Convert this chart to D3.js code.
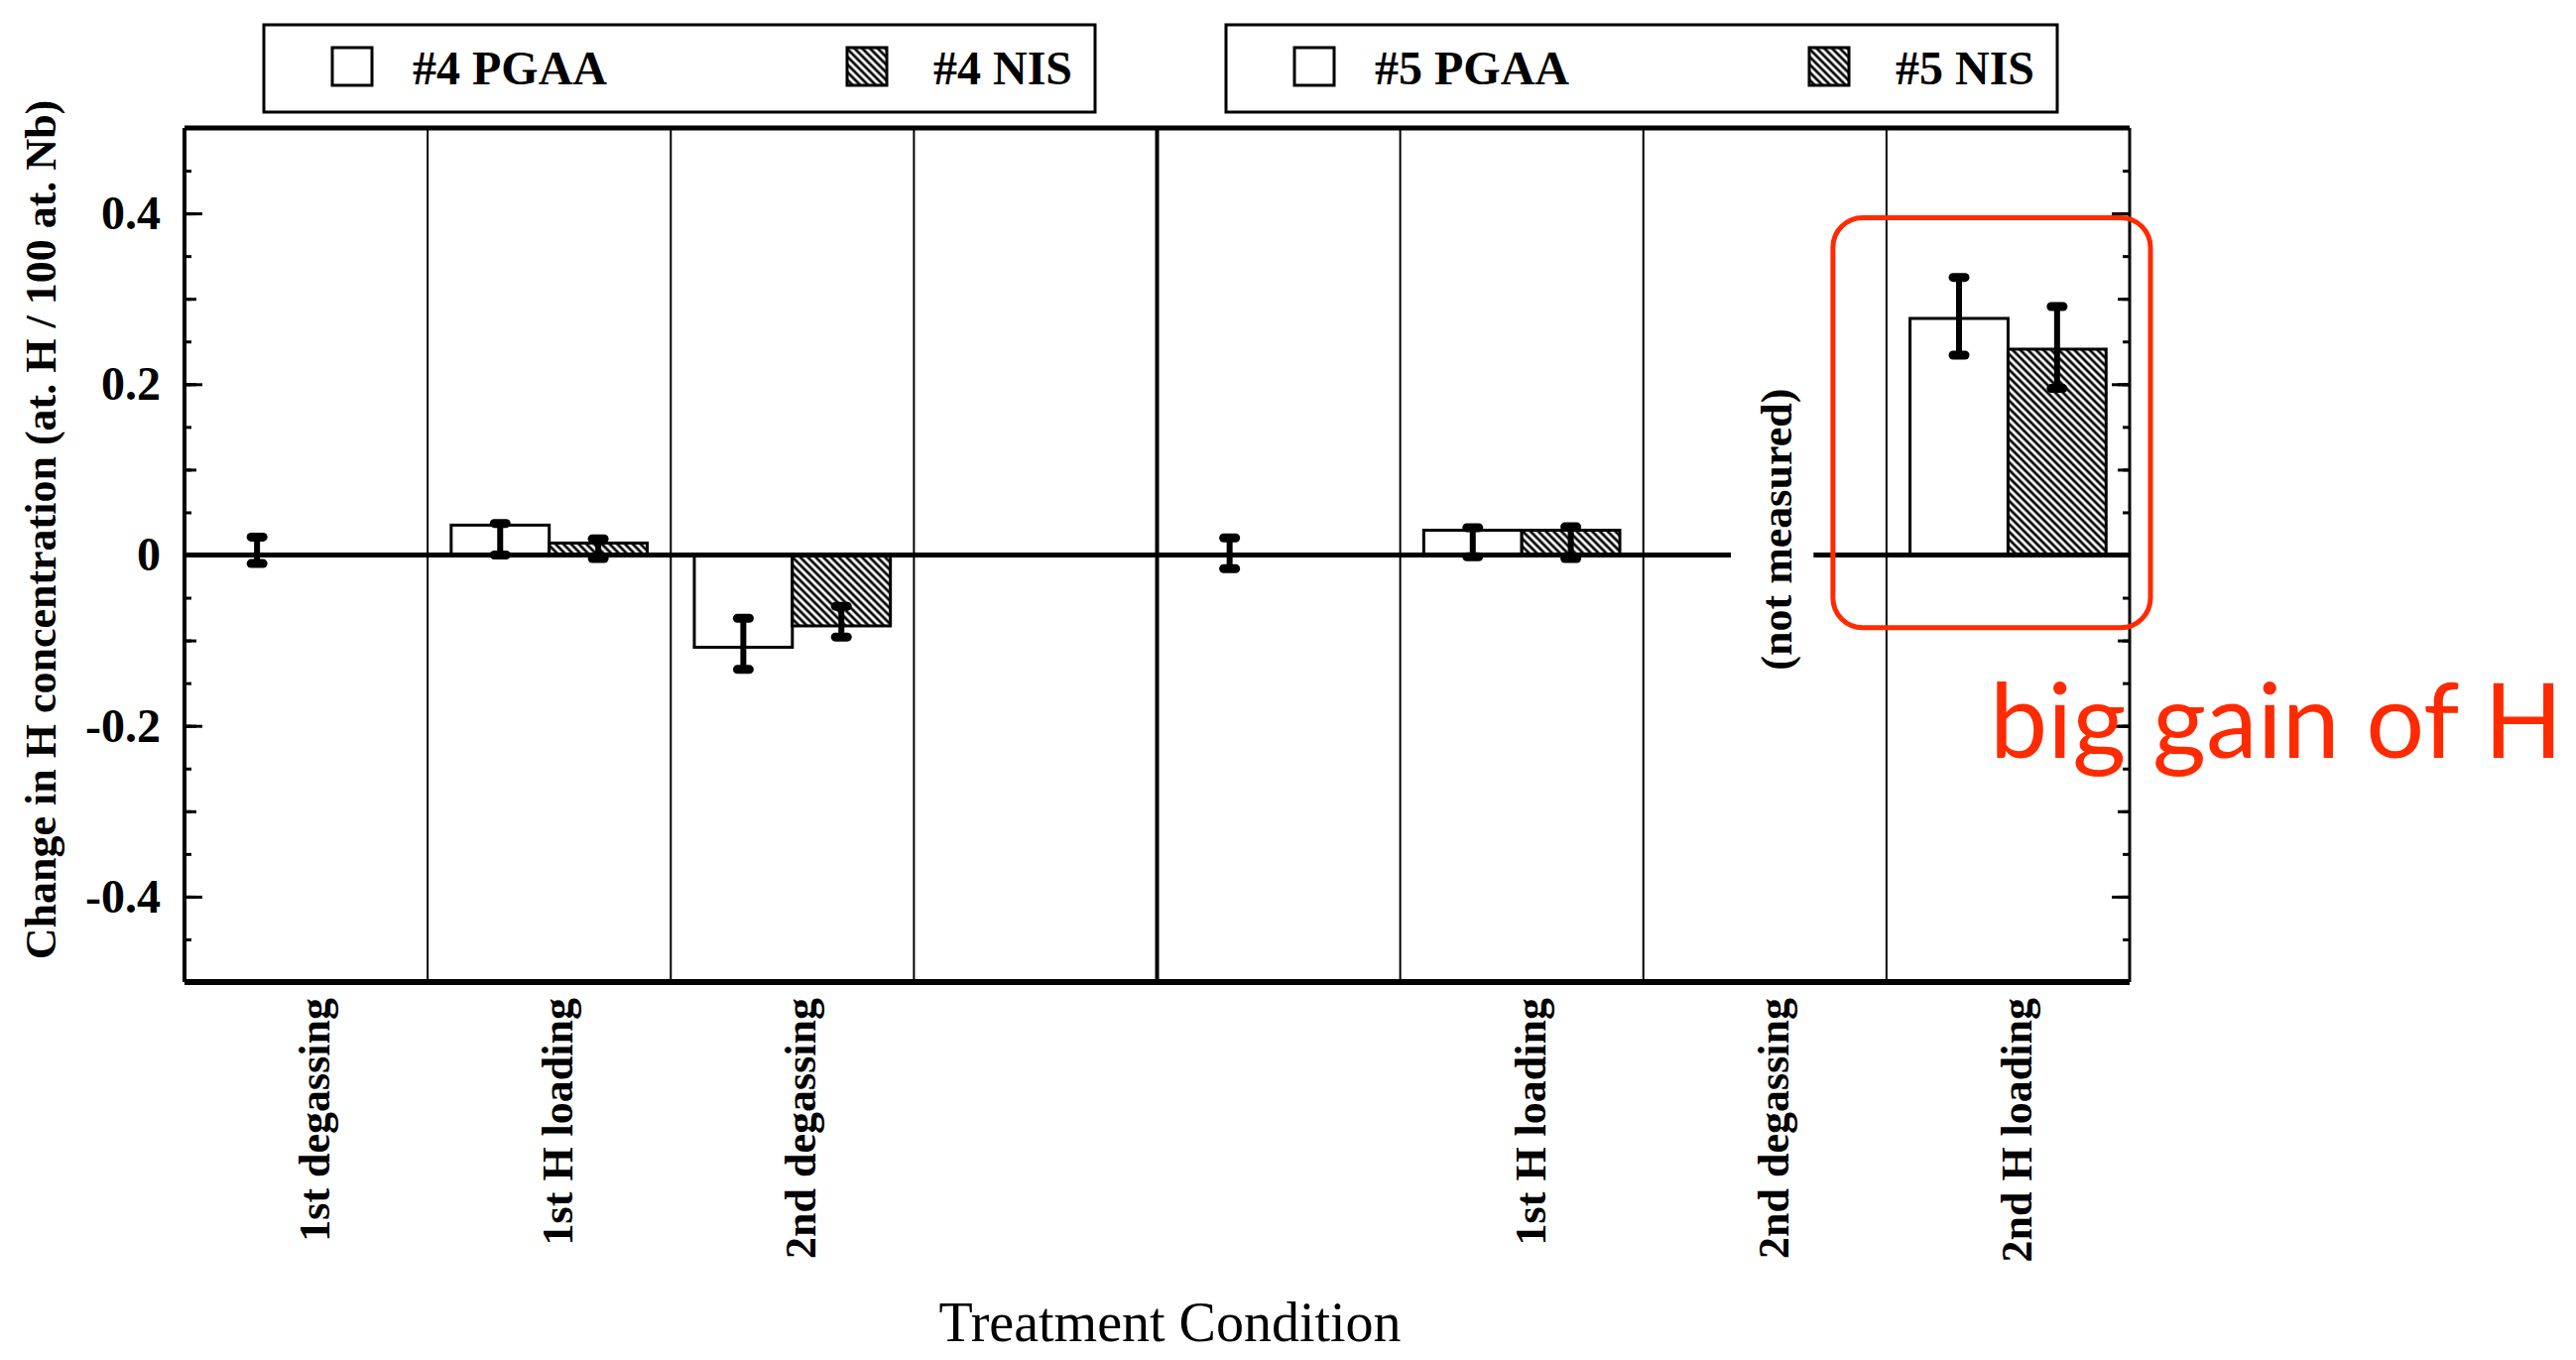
<!DOCTYPE html>
<html>
<head>
<meta charset="utf-8">
<script src="https://cdn.jsdelivr.net/npm/d3@7"></script>
<style>
  html, body { margin: 0; padding: 0; background: #fff; }
  svg { display: block; }
  text { font-family: "Liberation Serif", "Times New Roman", serif; fill: #000; }
</style>
</head>
<body>
<svg id="chart" width="2597" height="1371"></svg>
<script>
// one column per treatment step, sample #4 then sample #5
const columns = ['#4 1st degassing', '#4 1st H loading', '#4 2nd degassing', '#4 -',
                 '#5 1st degassing', '#5 1st H loading', '#5 2nd degassing', '#5 2nd H loading'];
const tickLabels = ['1st degassing', '1st H loading', '2nd degassing', '',
                    '', '1st H loading', '2nd degassing', '2nd H loading'];
const series = ['PGAA', 'NIS'];

// change in H concentration (at. H / 100 at. Nb), null = no bar
const pgaa   = [0,      0.035, -0.108, null, 0,      0.029,  null, 0.277];
const pgaaLo = [-0.010, 0.000, -0.134, null, -0.016, -0.002, null, 0.234];
const pgaaHi = [0.021,  0.037, -0.074, null, 0.020,  0.032,  null, 0.325];
const nis    = [null,   0.014, -0.083, null, null,   0.029,  null, 0.241];
const nisLo  = [null,  -0.004, -0.096, null, null,  -0.004,  null, 0.195];
const nisHi  = [null,   0.019, -0.060, null, null,   0.033,  null, 0.291];

const notMeasured = ['#5 2nd degassing'];
const yTicks = [-0.4, -0.2, 0, 0.2, 0.4];
const legendGroups = [['#4 PGAA', '#4 NIS'], ['#5 PGAA', '#5 NIS']];

const svg = d3.select('#chart');
const plotL = 186, plotR = 2147, plotT = 129, plotB = 990;

let x, sub, y;

function initAxis() {
  x = d3.scaleBand().domain(d3.range(columns.length)).range([plotL, plotR]).padding(0);
  sub = d3.scaleBand().domain(series).range([0, x.bandwidth()]).paddingInner(0).paddingOuter(0.24);
  y = d3.scaleLinear().domain([-0.5, 0.5]).range([plotB, plotT]);
}

function initDefs() {
  const p = svg.append('defs').append('pattern')
    .attr('id', 'hatch')
    .attr('patternUnits', 'userSpaceOnUse')
    .attr('width', 5.5).attr('height', 5.5)
    .attr('patternTransform', 'rotate(-45)');
  p.append('rect').attr('width', 5.5).attr('height', 5.5).attr('fill', '#fff');
  p.append('line').attr('x1', 2.75).attr('x2', 2.75).attr('y1', 0).attr('y2', 5.5)
    .attr('stroke', '#000').attr('stroke-width', 2.7);
}

function drawGrid() {
  // column separators
  svg.append('g').selectAll('line')
    .data(d3.range(1, columns.length))
    .enter().append('line')
    .attr('x1', d => x(d)).attr('x2', d => x(d))
    .attr('y1', plotT).attr('y2', plotB)
    .attr('stroke', '#000')
    .attr('stroke-width', d => d === 4 ? 4 : 2);
}

function drawBars() {
  const rows = [];
  columns.forEach((c, i) => {
    if (pgaa[i] != null) rows.push({ i, key: 'PGAA', v: pgaa[i], lo: pgaaLo[i], hi: pgaaHi[i] });
    if (nis[i] != null) rows.push({ i, key: 'NIS', v: nis[i], lo: nisLo[i], hi: nisHi[i] });
  });

  svg.append('g').selectAll('.bar')
    .data(rows)
    .enter().append('rect')
    .attr('class', 'bar')
    .attr('x', d => x(d.i) + sub(d.key))
    .attr('y', d => y(Math.max(0, d.v)))
    .attr('width', sub.bandwidth())
    .attr('height', d => Math.abs(y(d.v) - y(0)))
    .attr('fill', d => d.key === 'NIS' ? 'url(#hatch)' : '#fff')
    .attr('stroke', '#000')
    .attr('stroke-width', 3);

  // zero line, broken where the "(not measured)" note sits
  const gaps = notMeasured.map(c => columns.indexOf(c));
  const bw = x.bandwidth();
  let segs = [[plotL, plotR]];
  gaps.forEach(g => {
    const a = x(g) + bw * 0.36, b = x(g) + bw * 0.70;
    segs = segs.flatMap(s => s[0] < a && s[1] > b ? [[s[0], a], [b, s[1]]] : [s]);
  });
  svg.append('g').selectAll('line')
    .data(segs)
    .enter().append('line')
    .attr('x1', d => d[0]).attr('x2', d => d[1])
    .attr('y1', y(0)).attr('y2', y(0))
    .attr('stroke', '#000').attr('stroke-width', 5);

  svg.append('g').selectAll('text')
    .data(gaps)
    .enter().append('text')
    .attr('transform', d => 'translate(' + (x(d) + bw * 0.545) + ',' + y(0.03) + ') rotate(-90)')
    .attr('text-anchor', 'middle')
    .attr('dy', '0.35em')
    .attr('font-size', 44)
    .attr('font-weight', 'bold')
    .text('(not measured)');

  // error bars
  const eb = svg.append('g').selectAll('g')
    .data(rows)
    .enter().append('g')
    .attr('transform', d => 'translate(' + (x(d.i) + sub(d.key) + sub.bandwidth() / 2) + ',0)');
  eb.append('line')
    .attr('y1', d => y(d.lo)).attr('y2', d => y(d.hi))
    .attr('stroke', '#000').attr('stroke-width', 6);
  ['lo', 'hi'].forEach(k => {
    eb.append('line')
      .attr('x1', -6).attr('x2', 6)
      .attr('y1', d => y(d[k])).attr('y2', d => y(d[k]))
      .attr('stroke', '#000').attr('stroke-width', 9).attr('stroke-linecap', 'round');
  });
}

function drawAxis() {
  const fmt = d => String(d);
  const minor = d3.range(-10, 11).map(k => k * 0.05);
  const mid = d3.range(-5, 6).map(k => k * 0.1);

  const l = svg.append('g').attr('transform', 'translate(' + plotL + ',0)');
  l.append('g').call(d3.axisLeft(y).tickValues(minor).tickSize(-7).tickFormat(''));
  l.append('g').call(d3.axisLeft(y).tickValues(mid).tickSize(-12).tickFormat(''));
  l.append('g').call(d3.axisLeft(y).tickValues(yTicks).tickSize(-18).tickPadding(24).tickFormat(fmt))
    .selectAll('text')
    .attr('font-size', 48)
    .attr('font-weight', 'bold')
    .attr('font-family', '"Liberation Serif", serif')
    .attr('fill', '#000');

  const r = svg.append('g').attr('transform', 'translate(' + plotR + ',0)');
  r.append('g').call(d3.axisRight(y).tickValues(minor).tickSize(-7).tickFormat(''));
  r.append('g').call(d3.axisRight(y).tickValues(mid).tickSize(-12).tickFormat(''));
  r.append('g').call(d3.axisRight(y).tickValues(yTicks).tickSize(-18).tickFormat(''));

  svg.selectAll('.domain').remove();
  svg.selectAll('.tick line').attr('stroke', '#000').attr('stroke-width', 3);

  // frame
  const frame = svg.append('g').attr('stroke', '#000');
  frame.append('line').attr('x1', plotL).attr('x2', plotR).attr('y1', plotT).attr('y2', plotT).attr('stroke-width', 5);
  frame.append('line').attr('x1', plotL).attr('x2', plotR).attr('y1', plotB).attr('y2', plotB).attr('stroke-width', 6);
  frame.append('line').attr('x1', plotL).attr('x2', plotL).attr('y1', plotT).attr('y2', plotB).attr('stroke-width', 4);
  frame.append('line').attr('x1', plotR).attr('x2', plotR).attr('y1', plotT).attr('y2', plotB).attr('stroke-width', 3);

  // category labels
  svg.append('g').selectAll('text')
    .data(tickLabels.map((t, i) => ({ t, i })).filter(d => d.t))
    .enter().append('text')
    .attr('transform', d => 'translate(' + (x(d.i) + x.bandwidth() / 2 + 8) + ',' + (plotB + 16) + ') rotate(-90)')
    .attr('text-anchor', 'end')
    .attr('dy', '0.35em')
    .attr('font-size', 44)
    .attr('font-weight', 'bold')
    .text(d => d.t);

  svg.append('text')
    .attr('x', (plotL + plotR) / 2 + 13)
    .attr('y', 1352)
    .attr('text-anchor', 'middle')
    .attr('font-size', 56)
    .text('Treatment Condition');

  svg.append('text')
    .attr('transform', 'translate(41,' + 534 + ') rotate(-90)')
    .attr('text-anchor', 'middle')
    .attr('dy', '0.35em')
    .attr('font-size', 44)
    .attr('font-weight', 'bold')
    .text('Change in H concentration (at. H / 100 at. Nb)');
}

function drawLegend() {
  const boxX = [266, 1236];
  legendGroups.forEach((items, gi) => {
    const g = svg.append('g').attr('transform', 'translate(' + boxX[gi] + ',25)');
    g.append('rect').attr('width', 838).attr('height', 88)
      .attr('fill', '#fff').attr('stroke', '#000').attr('stroke-width', 3);
    const offs = [[69, 150], [588, 675]];
    items.forEach((name, k) => {
      g.append('rect')
        .attr('x', offs[k][0]).attr('y', 23)
        .attr('width', 40).attr('height', 38)
        .attr('fill', k === 1 ? 'url(#hatch)' : '#fff')
        .attr('stroke', '#000').attr('stroke-width', 3);
      g.append('text')
        .attr('x', offs[k][1]).attr('y', 60)
        .attr('font-size', 48)
        .attr('font-weight', 'bold')
        .text(name);
    });
  });
}

function drawNote() {
  const c = columns.length - 1;
  svg.append('rect')
    .attr('x', x(c) - 54).attr('y', y(0.395))
    .attr('width', x.bandwidth() + 75).attr('height', y(-0.085) - y(0.395))
    .attr('rx', 30).attr('ry', 30)
    .attr('fill', 'none').attr('stroke', '#ff2a00').attr('stroke-width', 5);
  svg.append('text')
    .attr('x', 2006).attr('y', 764)
    .style('font-family', 'Lato, "Open Sans", sans-serif')
    .style('font-size', '104px')
    .style('fill', '#ff2a00')
    .text('big gain of H');
}

initAxis();
initDefs();
drawGrid();
drawBars();
drawAxis();
drawLegend();
drawNote();
</script>
</body>
</html>
